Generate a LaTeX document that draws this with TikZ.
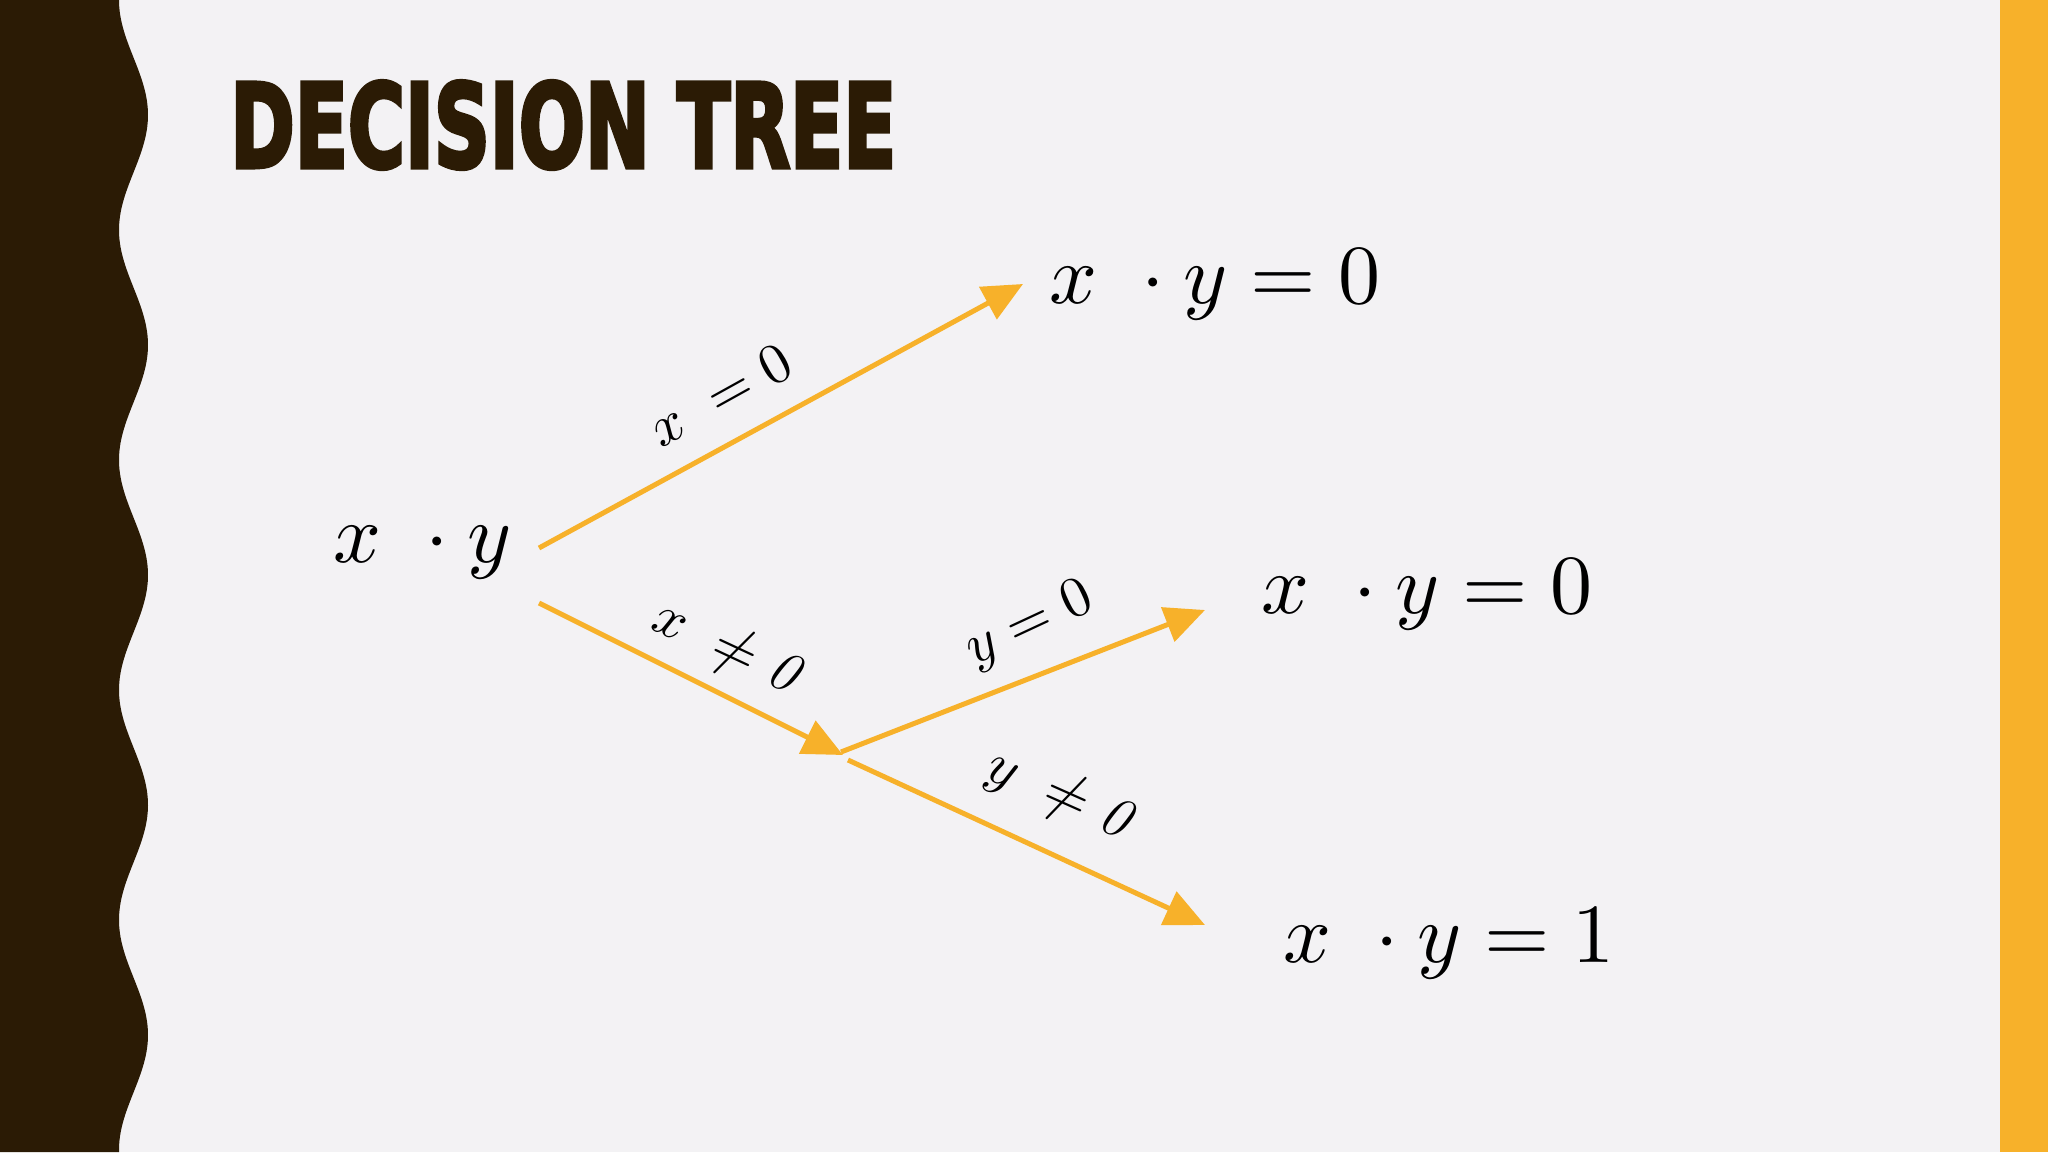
\documentclass[tikz,border=0pt]{standalone}
\usepackage{graphicx}
\usepackage{fontspec}
\usepackage{unicode-math}
\newfontfamily\titlefont{DejaVu Sans}[BoldFeatures={FakeBold=4}]
\usetikzlibrary{arrows.meta}
\definecolor{bgc}{RGB}{243,242,244}
\definecolor{darkb}{RGB}{43,27,5}
\definecolor{gold}{RGB}{247,177,42}
\begin{document}
\begin{tikzpicture}[x=1pt,y=-1pt,
  conn/.style={draw=gold, line width=5pt, -{Triangle[length=40pt,width=36pt]}},
  big/.style={inner sep=0pt, anchor=base west, font=\fontsize{84}{100}\selectfont},
  lbl/.style={inner sep=0pt, font=\fontsize{57}{68}\selectfont}]
\fill[bgc] (0,0) rectangle (2048,1152);
\useasboundingbox (0,0) rectangle (2048,1152);
% left wavy band
\fill[darkb] (0,0) -- plot[domain=0:1152, samples=300] ({133.5-14.5*cos(1.565217*\x)}, \x) -- (0,1152) -- cycle;
% right bar
\fill[gold] (2000,0) rectangle (2048,1152);
% title
\node[anchor=north west, inner sep=0pt, text=darkb] (title) at (230,81)
  {\resizebox{666pt}{86pt}{\titlefont\bfseries DECISION TREE}};
% nodes
\node[big] (root)  at (333,562)  {$x\ \cdot y$};
\node[big] (leafA) at (1049,303) {$x\ \cdot y = 0$};
\node[big] (leafB) at (1261,613) {$x\ \cdot y = 0$};
\node[big] (leafC) at (1283,962) {$x\ \cdot y = 1$};
% connector points
\coordinate (rootA) at (539,548);
\coordinate (rootB) at (539,603);
\coordinate (mid)   at (843,755);
\coordinate (tA) at (1023,284);
\coordinate (tB) at (1205,610);
\coordinate (tC) at (1205,925);
% connectors
\draw[conn] (rootA) -- (tA);
\draw[conn] (rootB) -- (mid);
\draw[conn] ([shift={(-2,-3)}]mid) -- (tB);
\draw[conn] ([shift={(5,5)}]mid) -- (tC);
% labels
\node[lbl, rotate=29]  (labA) at (720,395)  {$x\ = 0$};
\node[lbl, rotate=-25] (labB) at (725,648)  {$x\ \neq \textit{0}$};
\node[lbl, rotate=25]  (labC) at (1030,625) {$y=0$};
\node[lbl, rotate=-24] (labD) at (1058,795) {$y\ \neq \textit{0}$};
\end{tikzpicture}
\end{document}
